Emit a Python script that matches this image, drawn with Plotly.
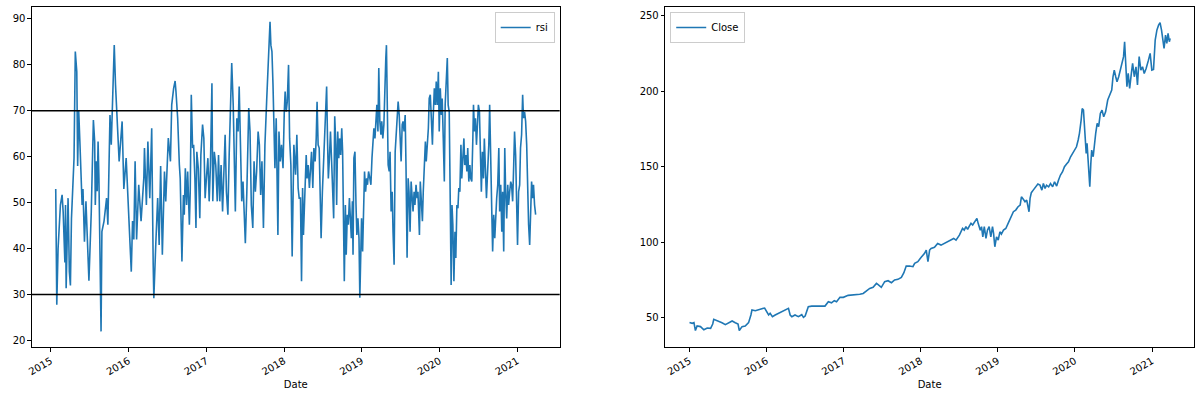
import pandas as pd
import plotly.graph_objects as go

# ---------------- data ----------------
START = pd.Timestamp("2015-01-01")

# RSI: days after 2015-01-01 and RSI value
rsi_day = [23,28,34,45,53,58,66,69,72,75, 81,87,92,97,105,109,115,122,126,131,
           137,147,151,158,165,172,179,190,200,206, 209,214,218,222,226,236,240,250,262,268,
           278,284,298,304,309,315,321,335,343,354, 362,378,384,390,396,403,413,424,437,440,
           449,456,465,474,481,484,493,502,509,516, 524,534,540,552,562,568,577,
           584,588,596,604,608,616,623,627,632,638, 643,651,655,660,666,671,677,682,686,693,
           700,705,713,719,725,732,738,744,750,757, 761,768,775,782,788,794,800,807,813,819,
           825,832,838,844,850,857,863,867,874,880, 885,891,897,903,910,914,921,925,930,936,
           942,949,955,961,967,974,980,986,992,999, 1006,1014,1020,1025,1030,1034,1039,1044,1048,1053,
           1059,1064,1067,1072,1078,1084,1091,1097,1101,1106, 1111,1117,1122,1128,1134,
           1142,1150,1156,1162,1167,1173,1178,1183,1187,1193, 1200,1204,1209,1215,1220,1225,1231,1236,1242,1247,
           1251,1256,1261,1265,1270,1276,1281,1287,1292,1296, 1300,1304,1309,1314,1320,1325,1329,1334,1339,1343,
           1348,1353,1357,1362,1367,1371,1376,1379,1384,1388, 1393,1398,1403,1407,1412,1417,1420,1424,1429,1434,
           1438,1443,1448,1452,1456,1460,1465,1470,1474,1479, 1484,1488,1493,1499,1504,1509,1513,1518,1523,1527,
           1532,1537,1541,1546,1551,1555,1560,1565,1569,1574, 1577,1580,1585,1590,1594,1599,1604,1608,1613,1618,
           1622,1627,1632,1637,1641,1646,1651,1655,1660,1665, 1669,1674,1679,1683,1688,1693,1697,1702,1707,1711,
           1716,1721,1725,
           1732,1736,1741,1746,1750,1755,1760,1764,1769,1774, 1778,1783,1788,1793,1797,1802,1807,1811,1816,1821,
           1825,1830,1835,1839,1844,1849,1853,1858,1863,1867, 1872,1877,1881,1885,1889,1894,1899,1903,1908,1913,
           1917,1922,1927,1931,1936,1941,1945,1950,1955,1959, 1964,1969,1973,1978,1983,1986,1991,1995,2000,2005,
           2009,2014,2019,2023,2028,2033,2037,2042,2047,2051, 2058,2062,2067,2072,2076,2081,2086,2090,2095,2100,
           2105,2109,2114,2119,2123,2128,2133,2137,2142,2147, 2151,2156,2161,2165,2170,2175,2179,2184,2189,2193,
           2198,2203,2207,2212,2217,2221,2226,2231,2236,2240, 2245,2250,2254,2259,2264,2268,2273,2278]

rsi_val = [53.0,27.8,40.0,49.5,51.7,48.0,37.0,49.5,31.4,42.0, 51.0,35.0,32.0,46.6,54.6,59.7,82.9,78.5,58.0,70.0,
           62.6,49.5,53.0,41.5,50.3,40.8,33.0,48.0,68.0,63.3, 49.5,59.0,52.5,63.3,55.4,22.0,43.7,46.0,51.0,45.2,
           69.1,62.6,84.3,75.6,70.0,64.1,59.0,67.7,53.0,59.7, 51.7,35.0,46.0,42.0,59.0,42.0,53.9,46.0,55.4,61.9,
           49.5,63.3,51.0,66.2,36.5,29.2,40.8,51.0,40.8,58.0, 38.7,56.8,50.3,64.1,59.0,71.3,74.9,
           76.5,74.2,68.4,58.2,55.3,37.2,51.7,47.4,57.5,49.5, 56.8,45.2,52.4,73.5,61.9,62.6,55.3,44.5,61.1,57.5,
           46.6,60.4,67.0,64.0,51.0,56.0,59.7,50.3,58.2,76.0, 50.3,61.1,58.2,50.3,60.4,50.3,58.2,48.1,56.8,64.8,
           52.4,47.4,60.4,74.2,80.4,71.3,59.7,48.1,68.4,65.5, 75.3,59.0,50.3,54.6,43.0,41.2,52.4,62.6,70.6,65.5,
           49.5,44.5,59.0,52.4,56.8,65.5,62.6,51.7,59.0,44.5, 62.6,72.0,78.5,82.2,89.4,84.3,82.9,75.6,64.8,57.5,
           68.4,56.8,43.0,65.5,59.0,62.6,57.5,69.8,74.2,69.8, 72.0,80.0,64.0,58.2,38.3,
           62.6,56.1,64.8,53.2,51.0,51.0,32.9,53.2,43.0,51.7, 60.4,55.3,58.2,53.2,57.5,61.1,53.2,61.9,59.0,64.0,
           72.0,62.6,61.9,55.3,42.3,52.4,59.0,66.2,69.8,75.3, 64.0,55.3,59.7,65.5,58.2,49.5,46.6,68.8,62.6,49.5,
           65.5,59.7,64.0,60.4,66.2,61.1,43.7,32.9,49.5,38.7, 47.4,45.2,51.0,46.0,42.3,50.3,38.7,59.7,61.1,49.5,
           43.0,46.6,42.3,29.3,38.0,46.6,39.4,52.4,56.8,52.4, 55.3,53.9,56.8,55.3,53.9,59.7,62.6,66.2,64.0,67.0,
           71.3,65.5,79.3,67.7,64.8,67.7,64.0,67.0,75.6,81.5, 84.3,69.1,58.2,56.8,61.1,48.1,52.4,43.7,36.5,61.1,
           64.0,68.4,72.0,69.1,64.0,59.0,67.0,67.7,65.5,69.1, 57.5,38.0,55.3,52.4,43.7,54.6,51.7,48.1,52.4,49.5,
           53.9,51.0,52.4,
           43.0,54.6,50.3,46.0,52.4,59.0,63.3,59.0,61.9,66.2, 72.7,73.5,68.4,62.6,69.1,74.9,71.3,76.4,71.3,78.5,
           65.5,74.9,69.1,72.7,64.0,54.6,71.3,75.6,81.5,71.3, 69.8,49.5,32.1,49.5,45.2,32.9,43.7,38.0,49.5,48.8,
           53.2,52.4,62.6,55.3,61.9,64.0,58.2,60.4,56.8,61.9, 54.6,58.2,55.3,54.6,64.0,71.3,65.5,68.4,62.6,66.2,
           71.3,69.8,61.9,52.4,61.1,55.3,64.0,56.1,51.0,55.3, 62.6,71.3,62.6,48.1,39.4,47.4,42.3,48.1,51.0,53.9,
           61.9,48.1,53.9,43.7,52.4,39.4,61.9,52.4,46.6,53.9, 49.5,52.4,54.6,53.9,50.3,58.2,65.5,60.4,52.4,40.8,
           52.4,53.9,61.9,64.8,73.5,68.4,69.8,67.7,62.6,52.4, 45.2,40.8,49.5,54.6,51.0,53.9,49.5,47.4]

# Close price: days after 2015-01-01 and closing value
close_day = [0,13,21,28,36,52,68,84,100,110, 115,123,139,154,170,186,202,217,230,236,
             249,264,280,291,296,312,327,343,356,367, 375,382,393,406,422,438,453,469,477,485,
             500,516,532,540,548,563,579,595,610,626, 642,658,673,686,697,713,729,752,768,784,
             807,823,839,854,870,886,894,909,925,941, 957,972,988,1004,1016,1027,1043,1059,1067,1082,
             1098,1114,1122,1130,1138,
             1145,1161,1176,1192,1208,1224,1239,1252,1263,1279, 1294,1302,1310,1318,1326,1334,1342,1353,1362,1368,
             1378,1384,1390,1397,1405,1412,1420,1428,1436,1441, 1447,1455,1463,1471,1478,1488,1499,1510,1522,1535,
             1546,1557,1567,1573,1582,1590,1598,1604,1609,1614, 1620,1629,1640,1651,1661,1670,1677,1685,1692,1702,
             1711,1721,1730,1740,1749,1758,1768,1777,1787,1796, 1806,1815,1825,1834,1842,1848,1856,1861,1867,1872,
             1876,1880,1884,1889,1894,1897,1902,1906,1913,1919, 1925,1932,1939,1947,1955,1963,1972,1982,1991,2001,
             2007,2013,2020,2026,2034,2042,2049,2057,2062,2067, 2073,2079,2086,2094,2100,2108,2116,2123,2131,2139,
             2147,2155,2164,2175,2183,2191,2199,2207,2215,2223, 2230,2237,2243,2249,2256,2262,2268,2274,2278]

close_val = [46.9,46.3,46.7,41.5,44.5,44.1,42.0,43.2,43.0,45.8, 48.9,48.5,47.4,46.7,45.4,46.7,47.8,46.7,45.8,41.5,
             44.1,44.5,46.7,51.8,55.1,54.6,55.5,56.0,56.4,54.0, 51.8,52.9,50.7,51.8,52.9,54.0,55.1,56.2,51.8,50.7,
             51.8,50.7,52.0,50.2,51.1,57.3,57.7,57.7,57.3,57.3, 57.7,60.6,59.9,61.3,60.6,63.5,63.5,64.8,65.0,65.0,
             65.5,66.1,67.9,69.4,70.1,72.7,71.9,70.1,73.9,74.5, 73.2,75.0,75.4,76.7,79.8,84.2,84.2,83.8,86.0,87.1,
             90.0,92.6,94.8,87.1,94.8,
             95.9,96.6,99.2,98.1,99.2,100.3,101.4,102.5,101.4,104.7, 109.1,108.0,110.3,108.5,110.7,112.5,111.4,114.2,115.8,112.5,
             108.0,110.3,103.6,110.3,102.5,108.0,110.3,103.6,110.3,105.8, 97.0,103.6,101.4,106.9,105.4,108.0,109.1,112.5,115.8,120.2,
             121.3,123.5,124.6,130.1,128.4,126.8,127.9,124.6,120.2,129.0, 132.8,134.5,136.7,138.5,137.8,134.5,138.9,135.6,137.8,136.7,
             138.9,136.7,140.0,137.2,141.2,144.5,146.7,150.0,151.8,153.3, 156.6,158.8,161.0,163.2,167.7,172.1,180.9,188.6,187.5,178.7,
             169.9,158.8,165.5,152.2,138.9,136.7,152.2,161.0,156.6,165.5, 172.1,178.7,176.5,185.3,187.5,183.1,186.4,194.2,197.5,200.8,
             209.6,214.0,209.6,206.3,209.6,214.0,218.4,222.9,232.8,220.6, 203.0,211.8,201.9,211.8,218.4,209.6,216.2,204.1,222.9,214.0,
             216.2,211.8,215.1,220.6,225.1,214.0,214.5,233.9,240.5,243.8, 245.4,240.5,233.9,228.4,237.2,231.7,238.3,232.8,235.0]

rsi_levels = [30, 70]
year_ticks = ["2015", "2016", "2017", "2018", "2019", "2020", "2021"]

assert len(rsi_day) == len(rsi_val), (len(rsi_day), len(rsi_val))
assert len(close_day) == len(close_val), (len(close_day), len(close_val))

rsi_dates = START + pd.to_timedelta(rsi_day, unit="D")
close_dates = START + pd.to_timedelta(close_day, unit="D")

# ---------------- figure ----------------
W, H = 1200, 397
BLUE = "#1f77b4"
FONT = dict(family="DejaVu Sans", size=10, color="black")

fig = go.Figure()
fig.add_trace(go.Scatter(x=rsi_dates, y=rsi_val, mode="lines", name="rsi",
                         line=dict(color=BLUE, width=1.6), xaxis="x", yaxis="y",
                         legend="legend"))
fig.add_trace(go.Scatter(x=close_dates, y=close_val, mode="lines", name="Close",
                         line=dict(color=BLUE, width=1.6), xaxis="x2", yaxis="y2",
                         legend="legend2"))

for lv in rsi_levels:
    fig.add_shape(type="line", xref="x domain", yref="y", x0=0, x1=1, y0=lv, y1=lv,
                  line=dict(color="black", width=1.5))

def px_x(p):
    return p / W

def px_y(p):
    return 1 - p / H

tickvals = [pd.Timestamp(y + "-01-01") for y in year_ticks]
axis_common = dict(showline=True, linecolor="black", linewidth=1, mirror=True,
                   ticks="outside", ticklen=3.5, tickwidth=0.8, tickcolor="black",
                   showgrid=False, zeroline=False, tickfont=FONT)

fig.update_layout(
    width=W, height=H, margin=dict(l=0, r=0, t=0, b=0),
    paper_bgcolor="white", plot_bgcolor="white", font=FONT,
    xaxis=dict(domain=[px_x(27), px_x(557)], anchor="y", type="date",
               range=["2014-10-04", "2021-07-19"], tickvals=tickvals, ticktext=year_ticks,
               tickangle=-30, title=dict(text="Date", font=FONT, standoff=4), **axis_common),
    yaxis=dict(domain=[px_y(347), px_y(7)], anchor="x", range=[18.6, 92.6],
               tickvals=[20, 30, 40, 50, 60, 70, 80, 90], **axis_common),
    xaxis2=dict(domain=[px_x(663), px_x(1194)], anchor="y2", type="date",
                range=["2014-09-08", "2021-07-19"], tickvals=tickvals, ticktext=year_ticks,
                tickangle=-30, title=dict(text="Date", font=FONT, standoff=4), **axis_common),
    yaxis2=dict(domain=[px_y(347), px_y(7)], anchor="x2", range=[30.6, 255.8],
                tickvals=[50, 100, 150, 200, 250], **axis_common),
    legend=dict(x=px_x(552), xanchor="right", y=px_y(12), yanchor="top", itemwidth=30,
                bgcolor="white", bordercolor="#cccccc", borderwidth=1, font=FONT),
    legend2=dict(x=px_x(668), xanchor="left", y=px_y(12), yanchor="top", itemwidth=30,
                 bgcolor="white", bordercolor="#cccccc", borderwidth=1, font=FONT),
    showlegend=True,
)

fig.write_html("out.html", config={"displayModeBar": False},
               post_script="document.body.style.margin='0';")
